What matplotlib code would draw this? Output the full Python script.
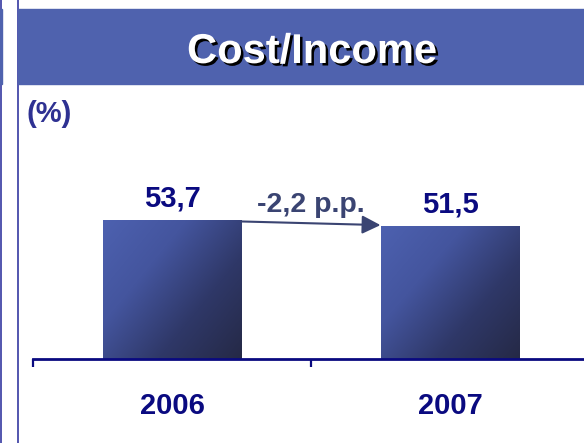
import numpy as np
import matplotlib
matplotlib.use("Agg")
import matplotlib.pyplot as plt
from matplotlib.colors import LinearSegmentedColormap
from matplotlib.patches import Rectangle
import matplotlib.patheffects as pe

plt.rcParams['font.family'] = ['Liberation Sans', 'DejaVu Sans']

# data
years = ["2006", "2007"]
cost_income = [53.7, 51.5]
title = "Cost/Income"
unit = "(%)"

NAVY = "#0a0a80"
BANNER = "#4f62ae"
LINE = "#4448a8"
DELTA = "#3a4472"

W, H = 584, 443
fig = plt.figure(figsize=(W / 100, H / 100), dpi=100)

# left frame lines
for xp in (1, 18):
  fig.add_artist(plt.Line2D([xp / W, xp / W], [0, 1], color=LINE, lw=1.3))

# title banner
fig.add_artist(Rectangle((17.5 / W, 1 - 84 / H), 1, 75 / H, color=BANNER, zorder=2))
fig.add_artist(Rectangle((0, 1 - 84 / H), 2 / W, 75 / H, color=BANNER, zorder=2))
t = fig.text(312 / W, 1 - 63 / H, title, ha='center', va='baseline', fontsize=30,
             fontweight='bold', color='white', zorder=3)
t.set_path_effects([pe.withSimplePatchShadow(offset=(1.8, -1.8), shadow_rgbFace='black', alpha=1.0)])

fig.text(26 / W, 1 - 114 / H, unit, ha='left', va='center', fontsize=21,
         fontweight='bold', color="#2e3192")

# axes: x -0.5..1.5 spans 556 px starting at 33 px, y 0..100 spans 259 px
ax = fig.add_axes([33 / W, 84 / H, 556 / W, 259 / H])
ax.set_xlim(-0.5, 1.5)
ax.set_ylim(0, 100)
ax.patch.set_alpha(0)

x = np.arange(len(years))
bars = ax.bar(x, cost_income, width=0.5, color='none', zorder=2)

# diagonal gradient fill, light top-left -> dark bottom-right
cmap = LinearSegmentedColormap.from_list("bar", ["#4d61b0", "#44559e", "#2f3868", "#252946"])
u, v = np.meshgrid(np.linspace(0, 1, 200), np.linspace(1, 0, 200))
grad = 0.55 * u + 0.45 * (1 - v)
for b in bars:
  x0, y0 = b.get_x(), b.get_y()
  im = ax.imshow(grad, cmap=cmap, extent=[x0, x0 + b.get_width(), y0, y0 + b.get_height()],
                 aspect='auto', zorder=2, vmin=0, vmax=1)
  im.set_clip_path(b)

ax.bar_label(bars, labels=[f"{v:.1f}".replace('.', ',') for v in cost_income], padding=5,
             fontsize=21, fontweight='bold', color=NAVY)

# change annotation
delta = cost_income[1] - cost_income[0]
ax.text(0.5, cost_income[0] + 3.2, f"{delta:.1f}".replace('.', ',') + " p.p.", ha='center',
        va='baseline', fontsize=20.5, fontweight='bold', color=DELTA)
ax.annotate("", xy=(0.75, cost_income[1] + 0.2), xytext=(0.25, cost_income[0] - 0.6),
            arrowprops=dict(arrowstyle='-|>', color=DELTA, lw=1.5, mutation_scale=28,
                            shrinkA=0, shrinkB=0), zorder=3)

for s in ('left', 'top', 'right'):
  ax.spines[s].set_visible(False)
ax.spines['bottom'].set_color(NAVY)
ax.spines['bottom'].set_linewidth(2)
ax.spines['bottom'].set_zorder(4)
ax.set_yticks([])
ax.set_xticks(x, years)
ax.set_xticks([-0.5, 0.5, 1.5], minor=True)
ax.tick_params(axis='x', which='major', length=0, pad=24, labelsize=21, labelcolor=NAVY)
ax.tick_params(axis='x', which='minor', length=6, width=1.6, color=NAVY)
for lab in ax.get_xticklabels():
  lab.set_fontweight('bold')

fig.savefig("out.png", dpi=100)
